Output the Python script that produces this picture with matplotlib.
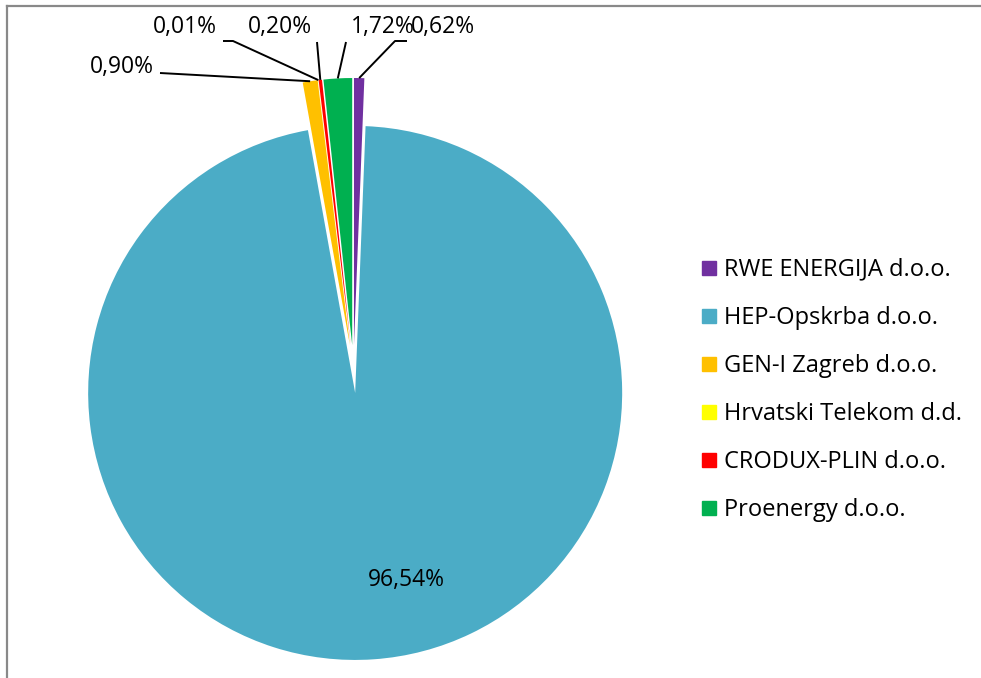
import numpy as np
import matplotlib.pyplot as plt
from matplotlib.lines import Line2D

plt.rcParams["font.family"] = ["Open Sans", "DejaVu Sans"]

# Market shares (%)
companies = [
    "RWE ENERGIJA d.o.o.",
    "HEP-Opskrba d.o.o.",
    "GEN-I Zagreb d.o.o.",
    "Hrvatski Telekom d.d.",
    "CRODUX-PLIN d.o.o.",
    "Proenergy d.o.o.",
]
shares = [0.62, 96.54, 0.90, 0.01, 0.20, 1.72]
colors = ["#7030A0", "#4BACC6", "#FFC000", "#FFFF00", "#FF0000", "#00B050"]

W, H = 981, 678


def py(y):
    # pixel row (from top) -> data y (from bottom)
    return H - y


fig = plt.figure(figsize=(W / 100, H / 100), dpi=100)
ax = fig.add_axes([0, 0, 1, 1])

wedges, _ = ax.pie(
    shares,
    colors=colors,
    startangle=90,
    counterclock=False,
    radius=267,
    center=(353.5, py(369)),
    explode=[24] * len(shares),
    frame=True,
)
ax.set_xlim(0, W)
ax.set_ylim(0, H)
ax.set_aspect("equal")
ax.axis("off")


def fmt(v):
    return f"{v:.2f}%".replace(".", ",")


def outer_mid(w):
    t = np.deg2rad((w.theta1 + w.theta2) / 2)
    cx, cy = w.center
    return cx + w.r * np.cos(t), cy + w.r * np.sin(t)


fs = 16.5
# label text position, leader path start (pixels)
label_layout = {
    0: ((443, 27), [(407, 41), (395, 41)]),
    2: ((122, 67), [(160, 73)]),
    3: ((185, 27), [(223, 41), (233, 41)]),
    4: ((280, 27), [(317, 42)]),
    5: ((383, 27), [(346, 42)]),
}
for i, ((tx, ty), path) in label_layout.items():
    ax.text(tx, py(ty), fmt(shares[i]), ha="center", va="center", fontsize=fs, color="black")
    ex, ey = outer_mid(wedges[i])
    xs = [p[0] for p in path] + [ex]
    ys = [py(p[1]) for p in path] + [ey]
    ax.plot(xs, ys, color="black", lw=1.4, solid_capstyle="butt")

ax.text(406, py(580), fmt(shares[1]), ha="center", va="center", fontsize=fs, color="black")

# legend
handles = [
    Line2D([0], [0], marker="s", linestyle="none", markersize=10.5,
           markerfacecolor=c, markeredgecolor=c)
    for c in colors
]
leg = ax.legend(
    handles, companies,
    loc="center left",
    bbox_to_anchor=(702 / W, 1 - 390 / H),
    bbox_transform=fig.transFigure,
    frameon=False,
    fontsize=17,
    labelspacing=1.02,
    handlelength=0.6,
    handletextpad=0.35,
    borderpad=0,
    borderaxespad=0,
)

# chart border (top and left visible)
ax.plot([6.5, W], [py(5.5), py(5.5)], color="#898989", lw=1.6)
ax.plot([6.5, 6.5], [py(5.5), 0], color="#898989", lw=1.6)

fig.savefig("out.png", dpi=100)
